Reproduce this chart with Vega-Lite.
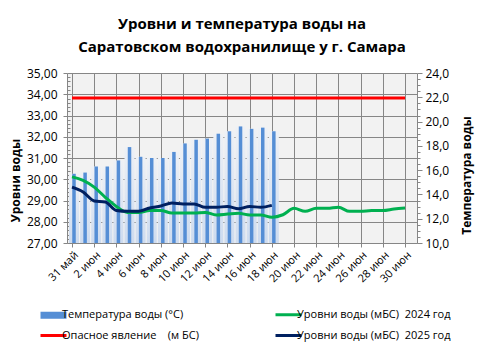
{
  "$schema": "https://vega.github.io/schema/vega-lite/v6.json",
  "width": 350,
  "height": 170,
  "autosize": {"type": "none"},
  "padding": {"left": 67, "top": 73, "right": 64, "bottom": 111},
  "background": "white",
  "title": {
    "text": ["Уровни и температура  воды на", "Саратовском водохранилище у  г. Самара"],
    "font": "Open Sans", "fontSize": 15, "fontWeight": "bold", "color": "black",
    "anchor": "middle", "offset": 12, "lineHeight": 23
  },
  "config": {
    "view": {"fill": "#f2f2f2", "stroke": null},
    "font": "Open Sans",
    "axis": {
      "domainColor": "#868686", "gridColor": "#868686", "tickColor": "#868686",
      "labelColor": "black", "labelFont": "Open Sans", "labelFontSize": 12,
      "titleFont": "Open Sans", "titleFontSize": 12, "titleFontWeight": "bold", "titleColor": "black"
    }
  },
  "data": {"values": [
    {"date": "2025-05-31", "series": "Температура воды (°C)", "value": 15.7},
    {"date": "2025-06-01", "series": "Температура воды (°C)", "value": 15.8},
    {"date": "2025-06-02", "series": "Температура воды (°C)", "value": 16.3},
    {"date": "2025-06-03", "series": "Температура воды (°C)", "value": 16.3},
    {"date": "2025-06-04", "series": "Температура воды (°C)", "value": 16.8},
    {"date": "2025-06-05", "series": "Температура воды (°C)", "value": 17.9},
    {"date": "2025-06-06", "series": "Температура воды (°C)", "value": 17.1},
    {"date": "2025-06-07", "series": "Температура воды (°C)", "value": 17.0},
    {"date": "2025-06-08", "series": "Температура воды (°C)", "value": 17.0},
    {"date": "2025-06-09", "series": "Температура воды (°C)", "value": 17.5},
    {"date": "2025-06-10", "series": "Температура воды (°C)", "value": 18.2},
    {"date": "2025-06-11", "series": "Температура воды (°C)", "value": 18.5},
    {"date": "2025-06-12", "series": "Температура воды (°C)", "value": 18.6},
    {"date": "2025-06-13", "series": "Температура воды (°C)", "value": 19.0},
    {"date": "2025-06-14", "series": "Температура воды (°C)", "value": 19.2},
    {"date": "2025-06-15", "series": "Температура воды (°C)", "value": 19.6},
    {"date": "2025-06-16", "series": "Температура воды (°C)", "value": 19.4},
    {"date": "2025-06-17", "series": "Температура воды (°C)", "value": 19.5},
    {"date": "2025-06-18", "series": "Температура воды (°C)", "value": 19.2},
    {"date": "2025-05-31", "series": "Опасное явление\u00a0\u00a0\u00a0\u00a0(м\u00a0БС)", "value": 33.82},
    {"date": "2025-06-30", "series": "Опасное явление\u00a0\u00a0\u00a0\u00a0(м\u00a0БС)", "value": 33.82},
    {"date": "2025-05-31", "series": "Уровни воды (мБС)\u00a0\u00a02024 год", "value": 30.11},
    {"date": "2025-06-01", "series": "Уровни воды (мБС)\u00a0\u00a02024 год", "value": 29.95},
    {"date": "2025-06-02", "series": "Уровни воды (мБС)\u00a0\u00a02024 год", "value": 29.63},
    {"date": "2025-06-03", "series": "Уровни воды (мБС)\u00a0\u00a02024 год", "value": 29.15},
    {"date": "2025-06-04", "series": "Уровни воды (мБС)\u00a0\u00a02024 год", "value": 28.72},
    {"date": "2025-06-05", "series": "Уровни воды (мБС)\u00a0\u00a02024 год", "value": 28.44},
    {"date": "2025-06-06", "series": "Уровни воды (мБС)\u00a0\u00a02024 год", "value": 28.44},
    {"date": "2025-06-07", "series": "Уровни воды (мБС)\u00a0\u00a02024 год", "value": 28.53},
    {"date": "2025-06-08", "series": "Уровни воды (мБС)\u00a0\u00a02024 год", "value": 28.53},
    {"date": "2025-06-09", "series": "Уровни воды (мБС)\u00a0\u00a02024 год", "value": 28.41},
    {"date": "2025-06-10", "series": "Уровни воды (мБС)\u00a0\u00a02024 год", "value": 28.41},
    {"date": "2025-06-11", "series": "Уровни воды (мБС)\u00a0\u00a02024 год", "value": 28.41},
    {"date": "2025-06-12", "series": "Уровни воды (мБС)\u00a0\u00a02024 год", "value": 28.44},
    {"date": "2025-06-13", "series": "Уровни воды (мБС)\u00a0\u00a02024 год", "value": 28.32},
    {"date": "2025-06-14", "series": "Уровни воды (мБС)\u00a0\u00a02024 год", "value": 28.36},
    {"date": "2025-06-15", "series": "Уровни воды (мБС)\u00a0\u00a02024 год", "value": 28.40},
    {"date": "2025-06-16", "series": "Уровни воды (мБС)\u00a0\u00a02024 год", "value": 28.32},
    {"date": "2025-06-17", "series": "Уровни воды (мБС)\u00a0\u00a02024 год", "value": 28.32},
    {"date": "2025-06-18", "series": "Уровни воды (мБС)\u00a0\u00a02024 год", "value": 28.21},
    {"date": "2025-06-19", "series": "Уровни воды (мБС)\u00a0\u00a02024 год", "value": 28.33},
    {"date": "2025-06-20", "series": "Уровни воды (мБС)\u00a0\u00a02024 год", "value": 28.63},
    {"date": "2025-06-21", "series": "Уровни воды (мБС)\u00a0\u00a02024 год", "value": 28.49},
    {"date": "2025-06-22", "series": "Уровни воды (мБС)\u00a0\u00a02024 год", "value": 28.63},
    {"date": "2025-06-23", "series": "Уровни воды (мБС)\u00a0\u00a02024 год", "value": 28.63},
    {"date": "2025-06-24", "series": "Уровни воды (мБС)\u00a0\u00a02024 год", "value": 28.68},
    {"date": "2025-06-25", "series": "Уровни воды (мБС)\u00a0\u00a02024 год", "value": 28.49},
    {"date": "2025-06-26", "series": "Уровни воды (мБС)\u00a0\u00a02024 год", "value": 28.49},
    {"date": "2025-06-27", "series": "Уровни воды (мБС)\u00a0\u00a02024 год", "value": 28.53},
    {"date": "2025-06-28", "series": "Уровни воды (мБС)\u00a0\u00a02024 год", "value": 28.53},
    {"date": "2025-06-29", "series": "Уровни воды (мБС)\u00a0\u00a02024 год", "value": 28.60},
    {"date": "2025-06-30", "series": "Уровни воды (мБС)\u00a0\u00a02024 год", "value": 28.65},
    {"date": "2025-05-31", "series": "Уровни воды (мБС)\u00a0\u00a02025 год", "value": 29.63},
    {"date": "2025-06-01", "series": "Уровни воды (мБС)\u00a0\u00a02025 год", "value": 29.40},
    {"date": "2025-06-02", "series": "Уровни воды (мБС)\u00a0\u00a02025 год", "value": 28.98},
    {"date": "2025-06-03", "series": "Уровни воды (мБС)\u00a0\u00a02025 год", "value": 28.93},
    {"date": "2025-06-04", "series": "Уровни воды (мБС)\u00a0\u00a02025 год", "value": 28.53},
    {"date": "2025-06-05", "series": "Уровни воды (мБС)\u00a0\u00a02025 год", "value": 28.49},
    {"date": "2025-06-06", "series": "Уровни воды (мБС)\u00a0\u00a02025 год", "value": 28.49},
    {"date": "2025-06-07", "series": "Уровни воды (мБС)\u00a0\u00a02025 год", "value": 28.65},
    {"date": "2025-06-08", "series": "Уровни воды (мБС)\u00a0\u00a02025 год", "value": 28.74},
    {"date": "2025-06-09", "series": "Уровни воды (мБС)\u00a0\u00a02025 год", "value": 28.88},
    {"date": "2025-06-10", "series": "Уровни воды (мБС)\u00a0\u00a02025 год", "value": 28.84},
    {"date": "2025-06-11", "series": "Уровни воды (мБС)\u00a0\u00a02025 год", "value": 28.84},
    {"date": "2025-06-12", "series": "Уровни воды (мБС)\u00a0\u00a02025 год", "value": 28.68},
    {"date": "2025-06-13", "series": "Уровни воды (мБС)\u00a0\u00a02025 год", "value": 28.68},
    {"date": "2025-06-14", "series": "Уровни воды (мБС)\u00a0\u00a02025 год", "value": 28.72},
    {"date": "2025-06-15", "series": "Уровни воды (мБС)\u00a0\u00a02025 год", "value": 28.61},
    {"date": "2025-06-16", "series": "Уровни воды (мБС)\u00a0\u00a02025 год", "value": 28.72},
    {"date": "2025-06-17", "series": "Уровни воды (мБС)\u00a0\u00a02025 год", "value": 28.68},
    {"date": "2025-06-18", "series": "Уровни воды (мБС)\u00a0\u00a02025 год", "value": 28.77}
  ]},
  "encoding": {
    "x": {
      "field": "date", "type": "temporal",
      "scale": {"type": "utc", "domain": [
        {"year": 2025, "month": 5, "date": 31, "utc": true},
        {"year": 2025, "month": 6, "date": 30, "hours": 15, "utc": true}
      ]},
      "axis": {
        "title": null, "grid": true, "tickSize": 4, "labelAngle": -45, "labelFontSize": 11,
        "labelOverlap": false, "labelPadding": 2,
        "values": [
          {"year": 2025, "month": 5, "date": 31, "utc": true},
          {"year": 2025, "month": 6, "date": 2, "utc": true},
          {"year": 2025, "month": 6, "date": 4, "utc": true},
          {"year": 2025, "month": 6, "date": 6, "utc": true},
          {"year": 2025, "month": 6, "date": 8, "utc": true},
          {"year": 2025, "month": 6, "date": 10, "utc": true},
          {"year": 2025, "month": 6, "date": 12, "utc": true},
          {"year": 2025, "month": 6, "date": 14, "utc": true},
          {"year": 2025, "month": 6, "date": 16, "utc": true},
          {"year": 2025, "month": 6, "date": 18, "utc": true},
          {"year": 2025, "month": 6, "date": 20, "utc": true},
          {"year": 2025, "month": 6, "date": 22, "utc": true},
          {"year": 2025, "month": 6, "date": 24, "utc": true},
          {"year": 2025, "month": 6, "date": 26, "utc": true},
          {"year": 2025, "month": 6, "date": 28, "utc": true},
          {"year": 2025, "month": 6, "date": 30, "utc": true}
        ],
        "labelExpr": "utcdate(datum.value) + ' ' + (utcmonth(datum.value) == 4 ? 'май' : 'июн')"
      }
    },
    "color": {
      "field": "series", "type": "nominal",
      "scale": {
        "domain": ["Температура воды (°C)", "Уровни воды (мБС)\u00a0\u00a02024 год", "Опасное явление\u00a0\u00a0\u00a0\u00a0(м\u00a0БС)", "Уровни воды (мБС)\u00a0\u00a02025 год"],
        "range": ["#558ed5", "#00b050", "#ff0000", "#002060"]
      },
      "legend": {
        "orient": "none", "legendX": -19, "legendY": 236, "direction": "horizontal",
        "title": null, "columns": 2, "columnPadding": 70, "rowPadding": 8,
        "labelFont": "Open Sans", "labelFontSize": 11, "labelColor": "black", "labelLimit": 0,
        "labelOffset": 3, "symbolSize": 676,
        "encode": {"symbols": {"update": {
          "shape": {"signal": "datum.value == 'Температура воды (°C)' ? 'M-1,-0.27H1V0.27H-1Z' : 'M-1,0H1'"},
          "fill": {"signal": "datum.value == 'Температура воды (°C)' ? '#558ed5' : 'transparent'"},
          "stroke": {"scale": "color", "field": "value"},
          "strokeWidth": {"signal": "datum.value == 'Температура воды (°C)' ? 0 : 3"},
          "opacity": {"value": 1}
        }}}
      }
    }
  },
  "layer": [
    {
      "transform": [{"filter": "datum.series == 'Температура воды (°C)'"}],
      "encoding": {
        "y": {
          "field": "value", "type": "quantitative",
          "scale": {"domain": [10, 24], "nice": false, "zero": false},
          "axis": {
            "orient": "right", "grid": false, "title": "Температура воды", "titleAngle": -90,
            "titleY": 102, "titlePadding": 25, "labelPadding": 3,
            "values": [10,10.5,11,11.5,12,12.5,13,13.5,14,14.5,15,15.5,16,16.5,17,17.5,18,18.5,19,19.5,20,20.5,21,21.5,22,22.5,23,23.5,24],
            "labelExpr": "datum.value % 2 == 0 ? replace(format(datum.value, '.1f'), '.', ',') : ''",
            "tickSize": {"condition": {"test": "datum.value % 2 == 0", "value": 5}, "value": 3}
          }
        },
        "y2": {"datum": 10}
      },
      "layer": [
        {
          "mark": {"type": "bar", "size": 10, "xOffset": 2},
          "encoding": {"color": {"value": {"gradient": "linear", "x1": 0, "y1": 0, "x2": 0, "y2": 1,
            "stops": [{"offset": 0, "color": "#eef1f6"}, {"offset": 1, "color": "#cddbef"}]}}}
        },
        {"mark": {"type": "bar", "size": 3.5, "xOffset": 2}}
      ]
    },
    {
      "transform": [{"filter": "datum.series != 'Температура воды (°C)'"}],
      "mark": {"type": "line", "strokeWidth": 3, "interpolate": "monotone"},
      "encoding": {
        "y": {
          "field": "value", "type": "quantitative",
          "scale": {"domain": [27, 35], "nice": false, "zero": false},
          "axis": {
            "orient": "left", "grid": true, "title": "Уровни воды", "titleY": 107, "titlePadding": 4,
            "labelPadding": 6,
            "values": [27,27.2,27.4,27.6,27.8,28,28.2,28.4,28.6,28.8,29,29.2,29.4,29.6,29.8,30,30.2,30.4,30.6,30.8,31,31.2,31.4,31.6,31.8,32,32.2,32.4,32.6,32.8,33,33.2,33.4,33.6,33.8,34,34.2,34.4,34.6,34.8,35],
            "labelExpr": "abs(datum.value - round(datum.value)) < 0.001 ? replace(format(datum.value, '.2f'), '.', ',') : ''",
            "gridOpacity": {"condition": {"test": "abs(datum.value - round(datum.value)) < 0.001", "value": 1}, "value": 0},
            "tickSize": {"condition": {"test": "abs(datum.value - round(datum.value)) < 0.001", "value": 4}, "value": -3}
          }
        }
      }
    }
  ],
  "resolve": {"scale": {"y": "independent"}}
}
